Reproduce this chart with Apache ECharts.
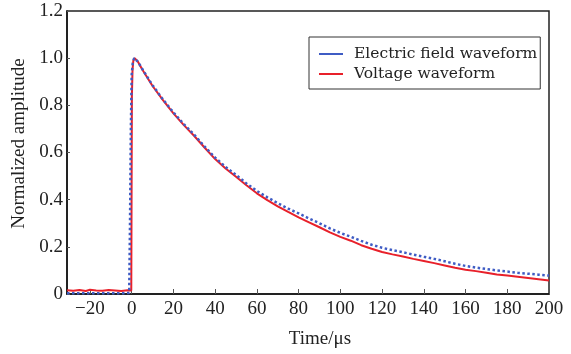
<!DOCTYPE html>
<html>
<head>
<meta charset="utf-8">
<script src="https://cdn.jsdelivr.net/npm/echarts@6/dist/echarts.min.js"></script>
<style>
  html, body { margin: 0; padding: 0; background: #fff; }
  #chart { width: 571px; height: 354px; }
</style>
</head>
<body>
<div id="chart"></div>
<script>
// time in microseconds, amplitudes normalized
const fieldTime = [-31, -25, -20, -15, -10, -5, -1.2, -0.8, -0.4, 0, 0.5, 1.2, 3, 5, 10, 15, 20, 25, 30, 35, 40, 45, 50, 55, 60, 65, 70, 75, 80, 85, 90, 95, 100, 105, 110, 115, 120, 125, 130, 135, 140, 145, 150, 155, 160, 165, 170, 175, 180, 185, 190, 195, 200];
const fieldAmp = [0.003, 0.003, 0.003, 0.003, 0.003, 0.003, 0.004, 0.3, 0.7, 0.93, 0.98, 1.0, 0.985, 0.955, 0.885, 0.825, 0.77, 0.72, 0.675, 0.625, 0.578, 0.539, 0.505, 0.469, 0.437, 0.41, 0.385, 0.362, 0.342, 0.32, 0.3, 0.278, 0.259, 0.243, 0.225, 0.209, 0.196, 0.186, 0.177, 0.167, 0.158, 0.149, 0.139, 0.128, 0.119, 0.112, 0.106, 0.1, 0.095, 0.09, 0.086, 0.082, 0.078];

const voltTime = [-31, -28, -25, -22, -20, -17, -14, -11, -8, -5, -2, -0.2, 0.1, 0.4, 0.8, 1.4, 3, 5, 10, 15, 20, 25, 30, 35, 40, 45, 50, 55, 60, 65, 70, 75, 80, 85, 90, 95, 100, 105, 110, 115, 120, 125, 130, 135, 140, 145, 150, 155, 160, 165, 170, 175, 180, 185, 190, 195, 200];
const voltAmp = [0.016, 0.014, 0.017, 0.013, 0.018, 0.015, 0.014, 0.017, 0.015, 0.013, 0.016, 0.015, 0.84, 0.95, 0.99, 1.0, 0.985, 0.953, 0.882, 0.822, 0.766, 0.716, 0.67, 0.62, 0.572, 0.532, 0.497, 0.461, 0.427, 0.398, 0.372, 0.348, 0.325, 0.304, 0.283, 0.261, 0.242, 0.226, 0.207, 0.192, 0.178, 0.168, 0.159, 0.149, 0.14, 0.131, 0.121, 0.111, 0.103, 0.097, 0.09, 0.083, 0.078, 0.073, 0.068, 0.063, 0.057];

const xTicks = [-20, 0, 20, 40, 60, 80, 100, 120, 140, 160, 180, 200];
const seriesNames = ["Electric field waveform", "Voltage waveform"];

const serif = "'Liberation Serif', 'Times New Roman', serif";
const toPairs = (xs, ys) => xs.map((x, i) => [x, ys[i]]);

const chart = echarts.init(document.getElementById("chart"), null, { renderer: "canvas" });

chart.setOption({
  animation: false,
  backgroundColor: "#fff",
  grid: {
    left: 67,
    right: 22,
    top: 11,
    bottom: 59,
    show: true,
    borderColor: "#222",
    borderWidth: 1.5,
    backgroundColor: "transparent",
  },
  legend: {
    data: seriesNames,
    orient: "vertical",
    left: 309,
    top: 37,
    icon: "rect",
    itemWidth: 24,
    itemHeight: 2,
    itemGap: 2,
    padding: [8, 3, 6, 10],
    borderColor: "#333",
    borderWidth: 1,
    textStyle: {
      fontFamily: "'DejaVu Serif', serif",
      fontSize: 15.5,
      color: "#222",
      lineHeight: 18,
      padding: [0, 0, 0, 6],
    },
  },
  xAxis: {
    type: "value",
    min: -31,
    max: 200,
    name: "Time/\u03bcs",
    nameLocation: "middle",
    nameGap: 36,
    nameTextStyle: {
      fontFamily: serif,
      fontSize: 19,
      color: "#222",
      padding: [0, 0, 0, 24],
    },
    axisLine: { lineStyle: { color: "#111", width: 1.5 } },
    axisTick: {
      inside: true,
      length: 5,
      customValues: xTicks,
      lineStyle: { color: "#555" },
    },
    axisLabel: {
      customValues: xTicks,
      margin: 6,
      fontFamily: serif,
      fontSize: 19,
      color: "#222",
      formatter: (v) => (v < 0 ? "\u2212" + Math.abs(v) : String(v)),
    },
    splitLine: { show: false },
  },
  yAxis: {
    type: "value",
    min: 0,
    max: 1.2,
    interval: 0.2,
    name: "Normalized amplitude",
    nameLocation: "middle",
    nameGap: 33,
    nameTextStyle: {
      fontFamily: serif,
      fontSize: 19,
      color: "#222",
      padding: [0, 0, 0, 18],
    },
    axisLine: { show: true, onZero: false, lineStyle: { color: "#111", width: 1.5 } },
    axisTick: { show: true, inside: true, length: 3, lineStyle: { color: "#555" } },
    axisLabel: {
      margin: 4,
      fontFamily: serif,
      fontSize: 19,
      color: "#222",
      formatter: (v) => (v === 0 ? "0" : v.toFixed(1)),
    },
    splitLine: { show: false },
  },
  series: [
    {
      name: seriesNames[1],
      type: "line",
      data: toPairs(voltTime, voltAmp),
      symbol: "none",
      color: "#e8202a",
      lineStyle: { width: 2, color: "#e8202a" },
      z: 2,
    },
    {
      name: seriesNames[0],
      type: "line",
      data: toPairs(fieldTime, fieldAmp),
      symbol: "none",
      color: "#3f5cc4",
      lineStyle: { width: 2.5, type: "dotted", color: "#3f5cc4" },
      z: 3,
    },
  ],
});
</script>
</body>
</html>
